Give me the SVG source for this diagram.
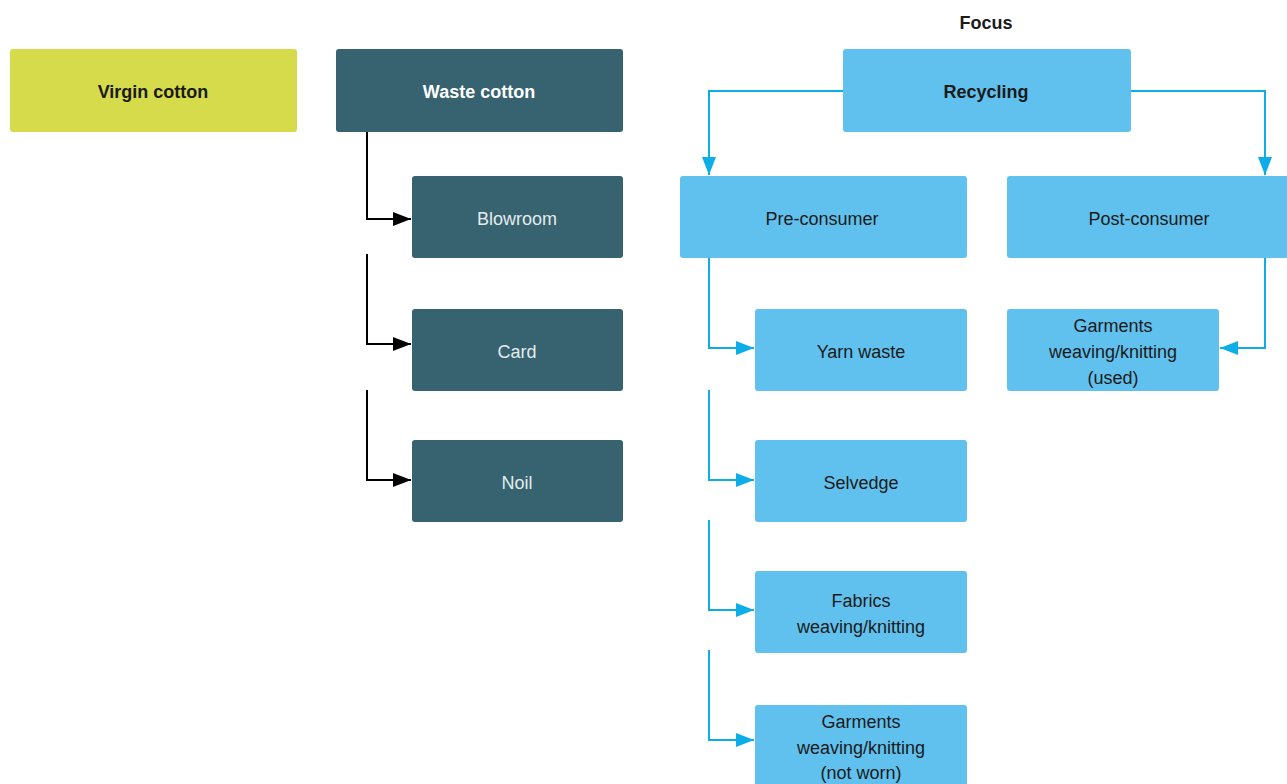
<svg xmlns="http://www.w3.org/2000/svg" width="1287" height="784" viewBox="0 0 1287 784">
<defs>
<style>
.t{font-family:"Liberation Sans",Arial,sans-serif;font-size:18px;text-anchor:middle;dominant-baseline:central}
.b{font-weight:bold}
.yel{fill:#D6DB4B}
.dark{fill:#36636F}
.blue{fill:#60C1EE}
.dk{fill:#1a1a1a}
.wt{fill:#ffffff}
.lt{fill:#e3ecee}
.cb{fill:none;stroke:#000;stroke-width:2}
.cl{fill:none;stroke:#0DAEE8;stroke-width:2}
</style>
<marker id="ab" viewBox="0 0 18 14" refX="18" refY="7" markerWidth="18" markerHeight="14" markerUnits="userSpaceOnUse" orient="auto"><path d="M0,0 L18,7 L0,14 Z" fill="#000"/></marker>
<marker id="al" viewBox="0 0 18 14" refX="18" refY="7" markerWidth="18" markerHeight="14" markerUnits="userSpaceOnUse" orient="auto"><path d="M0,0 L18,7 L0,14 Z" fill="#0DAEE8"/></marker>
</defs>
<rect width="1287" height="784" fill="#fff"/>
<text class="t b dk" x="986" y="23">Focus</text>
<g id="connectors">
<path class="cb" d="M367,132 V219 H411" marker-end="url(#ab)"/>
<path class="cb" d="M367,254 V344 H411" marker-end="url(#ab)"/>
<path class="cb" d="M367,390 V480 H411" marker-end="url(#ab)"/>
<path class="cl" d="M843,91 H709 V175" marker-end="url(#al)"/>
<path class="cl" d="M1131,91 H1265 V175" marker-end="url(#al)"/>
<path class="cl" d="M709,258 V348 H754" marker-end="url(#al)"/>
<path class="cl" d="M709,390 V480 H754" marker-end="url(#al)"/>
<path class="cl" d="M709,520 V610 H754" marker-end="url(#al)"/>
<path class="cl" d="M709,650 V740 H754" marker-end="url(#al)"/>
<path class="cl" d="M1265,258 V348 H1220" marker-end="url(#al)"/>
</g>
<g id="virgin"><rect class="yel" x="10" y="49" width="287" height="83" rx="3"/><text class="t b dk" x="153" y="92">Virgin cotton</text></g>
<g id="waste"><rect class="dark" x="336" y="49" width="287" height="83" rx="3"/><text class="t b wt" x="479" y="92">Waste cotton</text></g>
<g id="blowroom"><rect class="dark" x="412" y="176" width="211" height="82" rx="3"/><text class="t lt" x="517" y="219">Blowroom</text></g>
<g id="card"><rect class="dark" x="412" y="309" width="211" height="82" rx="3"/><text class="t lt" x="517" y="352">Card</text></g>
<g id="noil"><rect class="dark" x="412" y="440" width="211" height="82" rx="3"/><text class="t lt" x="517" y="483">Noil</text></g>
<g id="recycling"><rect class="blue" x="843" y="49" width="288" height="83" rx="3"/><text class="t b dk" x="986" y="92">Recycling</text></g>
<g id="preconsumer"><rect class="blue" x="680" y="176" width="287" height="82" rx="3"/><text class="t dk" x="822" y="219">Pre-consumer</text></g>
<g id="postconsumer"><rect class="blue" x="1007" y="176" width="283" height="82" rx="3"/><text class="t dk" x="1149" y="219">Post-consumer</text></g>
<g id="yarnwaste"><rect class="blue" x="755" y="309" width="212" height="82" rx="3"/><text class="t dk" x="861" y="352">Yarn waste</text></g>
<g id="garmentsused"><rect class="blue" x="1007" y="309" width="212" height="82" rx="3"/><text class="t dk" x="1113" y="326">Garments</text><text class="t dk" x="1113" y="352">weaving/knitting</text><text class="t dk" x="1113" y="378">(used)</text></g>
<g id="selvedge"><rect class="blue" x="755" y="440" width="212" height="82" rx="3"/><text class="t dk" x="861" y="483">Selvedge</text></g>
<g id="fabrics"><rect class="blue" x="755" y="571" width="212" height="82" rx="3"/><text class="t dk" x="861" y="601">Fabrics</text><text class="t dk" x="861" y="627">weaving/knitting</text></g>
<g id="garmentsnotworn"><rect class="blue" x="755" y="705" width="212" height="85" rx="3"/><text class="t dk" x="861" y="722">Garments</text><text class="t dk" x="861" y="748">weaving/knitting</text><text class="t dk" x="861" y="773">(not worn)</text></g>
</svg>
